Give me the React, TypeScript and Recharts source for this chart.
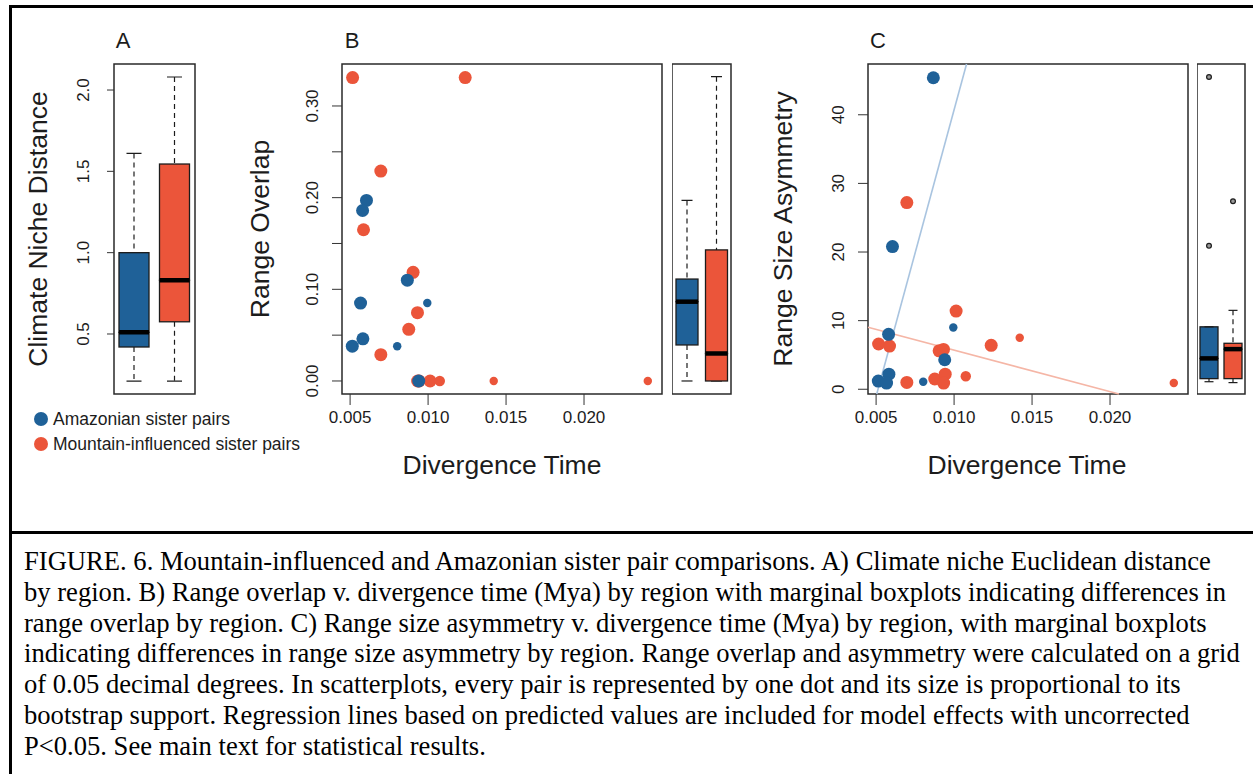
import React from "react";
import {
  ScatterChart,
  Scatter,
  ComposedChart,
  Bar,
  XAxis,
  YAxis,
  ReferenceArea,
  ReferenceLine,
} from "recharts";

const BLUE = "#1f6198";
const RED = "#eb553a";
const BLUE_FIT = "#a9c4e0";
const RED_FIT = "#f5b6a6";
const INK = "#1c1c1c";
const SANS = "'Liberation Sans', Arial, Helvetica, sans-serif";
const SERIF = "'Liberation Serif', 'Times New Roman', serif";

// sister pairs: divergence time (Mya), range overlap, range size asymmetry, bootstrap support
const amazonianPairs = [
  { time: 0.00867, overlap: 0.11, asym: 45.4, support: 100 },
  { time: 0.00605, overlap: 0.197, asym: 20.8, support: 100 },
  { time: 0.0058, overlap: 0.186, asym: 8.0, support: 100 },
  { time: 0.00995, overlap: 0.085, asym: 9.0, support: 65 },
  { time: 0.0094, overlap: 0.0, asym: 4.3, support: 100 },
  { time: 0.00582, overlap: 0.046, asym: 2.2, support: 100 },
  { time: 0.00514, overlap: 0.038, asym: 1.2, support: 100 },
  { time: 0.00567, overlap: 0.085, asym: 0.9, support: 100 },
  { time: 0.00802, overlap: 0.038, asym: 1.1, support: 65 },
];

const mountainPairs = [
  { time: 0.00516, overlap: 0.331, asym: 6.6, support: 100 },
  { time: 0.01238, overlap: 0.331, asym: 6.4, support: 100 },
  { time: 0.00697, overlap: 0.229, asym: 27.2, support: 100 },
  { time: 0.00586, overlap: 0.165, asym: 6.3, support: 100 },
  { time: 0.00904, overlap: 0.1185, asym: 5.6, support: 100 },
  { time: 0.00932, overlap: 0.0745, asym: 5.8, support: 100 },
  { time: 0.00876, overlap: 0.0564, asym: 1.5, support: 100 },
  { time: 0.00697, overlap: 0.0287, asym: 1.0, support: 100 },
  { time: 0.00943, overlap: 0.0, asym: 2.2, support: 100 },
  { time: 0.01013, overlap: 0.0, asym: 11.4, support: 100 },
  { time: 0.01075, overlap: 0.0, asym: 1.9, support: 80 },
  { time: 0.01421, overlap: 0.0, asym: 7.5, support: 65 },
  { time: 0.02409, overlap: 0.0, asym: 0.9, support: 65 },
  { time: 0.00933, overlap: 0.0, asym: 0.9, support: 100 },
];

// boxplot summaries by region
const nicheBoxes = [
  { group: "Amazonian", min: 0.21, q1: 0.42, med: 0.51, q3: 1.0, max: 1.61 },
  { group: "Mountain", min: 0.21, q1: 0.575, med: 0.83, q3: 1.545, max: 2.08 },
];
const overlapBoxes = [
  { group: "Amazonian", min: 0, q1: 0.0393, med: 0.0865, q3: 0.1112, max: 0.197 },
  { group: "Mountain", min: 0, q1: 0, med: 0.03, q3: 0.143, max: 0.332 },
];
const asymBoxes = [
  { group: "Amazonian", min: 1.1, q1: 1.55, med: 4.5, q3: 9.1, max: 9.1 },
  { group: "Mountain", min: 0.97, q1: 1.55, med: 5.85, q3: 6.7, max: 11.5 },
];
const asymOutliers = [
  { group: "Amazonian", value: 45.5 },
  { group: "Amazonian", value: 20.9 },
  { group: "Mountain", value: 27.4 },
];

// regression lines (predicted values) for panel C
const amazonianFit = { slope: 8349, intercept: -42.77 };
const mountainFit = { slope: -603.7, intercept: 11.73 };

const timeTicks = [0.005, 0.01, 0.015, 0.02];
const nicheTicks = [0.5, 1, 1.5, 2];
const overlapTicks = [0, 0.05, 0.1, 0.15, 0.2, 0.25, 0.3];
const asymTicks = [0, 10, 20, 30, 40];

const timeDomain = [0.00448, 0.025];
const nicheDomain = [0.131, 2.16];
const overlapDomain = [-0.0142, 0.3458];
const asymDomain = [-0.69, 47.4];

const captionLines = [
  "FIGURE. 6. Mountain-influenced and Amazonian sister pair comparisons. A) Climate niche Euclidean distance",
  "by region. B) Range overlap v. divergence time (Mya) by region with marginal boxplots indicating differences in",
  "range overlap by region. C) Range size asymmetry v. divergence time (Mya) by region, with marginal boxplots",
  "indicating differences in range size asymmetry by region. Range overlap and asymmetry were calculated on a grid",
  "of 0.05 decimal degrees. In scatterplots, every pair is represented by one dot and its size is proportional to its",
  "bootstrap support. Regression lines based on predicted values are included for model effects with uncorrected",
  "P<0.05. See main text for statistical results.",
];

const colorOf = (g: string) => (g === "Amazonian" ? BLUE : RED);

const toStack = (rows: typeof nicheBoxes) =>
  rows.map((r) => ({
    group: r.group,
    base: r.min,
    lw: r.q1 - r.min,
    bl: r.med - r.q1,
    bh: r.q3 - r.med,
    hw: r.max - r.q3,
  }));

function fitSegment(fit: { slope: number; intercept: number }, xd: number[], yd: number[]) {
  const pts: { x: number; y: number }[] = [];
  for (const x of xd) {
    const y = fit.slope * x + fit.intercept;
    if (y >= yd[0] && y <= yd[1]) pts.push({ x, y });
  }
  for (const y of yd) {
    const x = (y - fit.intercept) / fit.slope;
    if (x >= xd[0] && x <= xd[1]) pts.push({ x, y });
  }
  return pts.slice(0, 2);
}

const Empty = () => <g />;

function LowWhisker(p: any) {
  const cx = p.x + p.width / 2;
  const end = p.y + p.height;
  return (
    <g stroke={INK} strokeWidth={1.2}>
      <line x1={cx} x2={cx} y1={p.y} y2={end} strokeDasharray="5 4" />
      <line x1={cx - p.width / 4} x2={cx + p.width / 4} y1={end} y2={end} />
    </g>
  );
}

function HighWhisker(p: any) {
  const cx = p.x + p.width / 2;
  return (
    <g stroke={INK} strokeWidth={1.2}>
      <line x1={cx} x2={cx} y1={p.y} y2={p.y + p.height} strokeDasharray="5 4" />
      <line x1={cx - p.width / 4} x2={cx + p.width / 4} y1={p.y} y2={p.y} />
    </g>
  );
}

function BoxLow(p: any) {
  return (
    <rect x={p.x} y={p.y} width={p.width} height={p.height} fill={colorOf(p.payload.group)} stroke={INK} strokeWidth={1.3} />
  );
}

function BoxHigh(p: any) {
  const bottom = p.y + p.height;
  return (
    <g>
      <rect x={p.x} y={p.y} width={p.width} height={p.height} fill={colorOf(p.payload.group)} stroke={INK} strokeWidth={1.3} />
      <line x1={p.x} x2={p.x + p.width} y1={bottom} y2={bottom} stroke="#000" strokeWidth={4.5} />
    </g>
  );
}

const Outlier = (p: any) => <circle cx={p.cx} cy={p.cy} r={2.4} fill="#9a9a9a" stroke={INK} strokeWidth={1.2} />;

const dot = (color: string) => (p: any) => <circle cx={p.cx} cy={p.cy} r={(6.5 * p.payload.support) / 100} fill={color} />;

function VTick({ x, y, payload, fmt }: any) {
  return (
    <text x={x} y={y} transform={`rotate(-90 ${x} ${y})`} textAnchor="middle" fontSize={17} fill={INK} fontFamily={SANS}>
      {fmt(payload.value)}
    </text>
  );
}

const frameProps = { fill: "none", stroke: "#2a2a2a", strokeWidth: 1.5, ifOverflow: "visible" as const };

function BoxPanel({ rows, domain, barSize, width, outliers, axis }: any) {
  const data = toStack(rows);
  return (
    <ComposedChart width={width} height={350} data={data} margin={{ top: 10, right: 2, bottom: 10, left: 0 }}>
      <XAxis dataKey="group" type="category" hide allowDuplicatedCategory={false} />
      {axis ? (
        <YAxis
          type="number"
          domain={domain}
          allowDataOverflow
          ticks={nicheTicks}
          interval={0}
          width={60}
          axisLine={false}
          tickSize={7}
          tickMargin={18}
          tickLine={{ stroke: "#333" }}
          tick={<VTick fmt={(v: number) => v.toFixed(1)} />}
        />
      ) : (
        <YAxis type="number" domain={domain} allowDataOverflow hide />
      )}
      <Bar dataKey="base" stackId="b" barSize={barSize} shape={Empty} isAnimationActive={false} />
      <Bar dataKey="lw" stackId="b" barSize={barSize} shape={LowWhisker} isAnimationActive={false} />
      <Bar dataKey="bl" stackId="b" barSize={barSize} shape={BoxLow} isAnimationActive={false} />
      <Bar dataKey="bh" stackId="b" barSize={barSize} shape={BoxHigh} isAnimationActive={false} />
      <Bar dataKey="hw" stackId="b" barSize={barSize} shape={HighWhisker} isAnimationActive={false} />
      {outliers && <Scatter data={outliers} dataKey="value" shape={Outlier} isAnimationActive={false} />}
      <ReferenceArea y1={domain[0]} y2={domain[1]} {...frameProps} />
    </ComposedChart>
  );
}

function ScatterPanel({ yKey, yDomain, yTicks, yFmt, fits }: any) {
  return (
    <ScatterChart width={375} height={380} margin={{ top: 10, right: 5, bottom: 0, left: 0 }}>
      <XAxis
        type="number"
        dataKey="time"
        domain={timeDomain}
        allowDataOverflow
        ticks={timeTicks}
        interval={0}
        height={40}
        axisLine={false}
        tickSize={11}
        tickMargin={6}
        tickLine={{ stroke: "#333" }}
        tick={{ fontSize: 17, fill: INK, fontFamily: SANS }}
        tickFormatter={(v: number) => v.toFixed(3)}
      />
      <YAxis
        type="number"
        dataKey={yKey}
        domain={yDomain}
        allowDataOverflow
        ticks={yTicks}
        interval={0}
        width={50}
        axisLine={false}
        tickSize={10}
        tickMargin={14}
        tickLine={{ stroke: "#333" }}
        tick={<VTick fmt={yFmt} />}
      />
      <Scatter data={mountainPairs} shape={dot(RED)} isAnimationActive={false} />
      <Scatter data={amazonianPairs} shape={dot(BLUE)} isAnimationActive={false} />
      {fits &&
        fits.map((f: any, i: number) => (
          <ReferenceLine key={i} segment={fitSegment(f.fit, timeDomain, yDomain)} stroke={f.color} strokeWidth={1.6} ifOverflow="visible" />
        ))}
      <ReferenceArea x1={timeDomain[0]} x2={timeDomain[1]} y1={yDomain[0]} y2={yDomain[1]} {...frameProps} />
    </ScatterChart>
  );
}

const abs = (left: number, top: number): React.CSSProperties => ({ position: "absolute", left, top });

function Text({ x, y, size, rotate, children }: any) {
  return (
    <div
      style={{
        position: "absolute",
        left: x,
        top: y,
        transform: `translate(-50%, -50%)${rotate ? " rotate(-90deg)" : ""}`,
        whiteSpace: "nowrap",
        fontFamily: SANS,
        fontSize: size,
        color: INK,
        lineHeight: 1,
      }}
    >
      {children}
    </div>
  );
}

export default function App() {
  return (
    <div style={{ position: "absolute", left: 0, top: 0, width: 1253, height: 774, background: "#fff", overflow: "hidden" }}>
      {/* figure frame */}
      <div style={{ position: "absolute", left: 9, top: 5, width: 1300, height: 800, borderLeft: "3px solid #000", borderTop: "3px solid #000" }} />
      <div style={{ position: "absolute", left: 9, top: 531, width: 1300, height: 3, background: "#000" }} />

      <Text x={123} y={41} size={22}>A</Text>
      <Text x={352} y={41} size={22}>B</Text>
      <Text x={878} y={41} size={22}>C</Text>

      <Text x={38} y={229} size={26.5} rotate>Climate Niche Distance</Text>
      <Text x={260} y={229} size={26.5} rotate>Range Overlap</Text>
      <Text x={783} y={229} size={26.5} rotate>Range Size Asymmetry</Text>
      <Text x={502} y={465} size={26.5}>Divergence Time</Text>
      <Text x={1027} y={465} size={26.5}>Divergence Time</Text>

      <div style={abs(54, 54)}>
        <BoxPanel rows={nicheBoxes} domain={nicheDomain} barSize={30} width={143} axis />
      </div>
      <div style={abs(292, 54)}>
        <ScatterPanel yKey="overlap" yDomain={overlapDomain} yTicks={overlapTicks} yFmt={(v: number) => (Math.round(v * 100) % 10 === 0 ? v.toFixed(2) : "")} />
      </div>
      <div style={abs(672, 54)}>
        <BoxPanel rows={overlapBoxes} domain={overlapDomain} barSize={22} width={61} />
      </div>
      <div style={abs(818, 54)}>
        <ScatterPanel
          yKey="asym"
          yDomain={asymDomain}
          yTicks={asymTicks}
          yFmt={(v: number) => String(v)}
          fits={[
            { fit: amazonianFit, color: BLUE_FIT },
            { fit: mountainFit, color: RED_FIT },
          ]}
        />
      </div>
      <div style={abs(1197, 54)}>
        <BoxPanel rows={asymBoxes} domain={asymDomain} barSize={18} width={50} outliers={asymOutliers} />
      </div>

      {/* legend */}
      {[
        { label: "Amazonian sister pairs", color: BLUE, y: 419 },
        { label: "Mountain-influenced sister pairs", color: RED, y: 444 },
      ].map((d) => (
        <div key={d.label} style={{ position: "absolute", left: 34, top: d.y - 10, height: 20, display: "flex", alignItems: "center", fontFamily: SANS, fontSize: 17.5, color: INK, whiteSpace: "nowrap" }}>
          <span style={{ display: "inline-block", width: 14, height: 14, borderRadius: 7, background: d.color, marginRight: 5 }} />
          {d.label}
        </div>
      ))}

      {/* caption */}
      <div style={{ position: "absolute", left: 24, top: 546, fontFamily: SERIF, fontSize: 26.6, lineHeight: "30.8px", color: "#000" }}>
        {captionLines.map((l) => (
          <div key={l} style={{ whiteSpace: "nowrap" }}>{l}</div>
        ))}
      </div>
    </div>
  );
}
